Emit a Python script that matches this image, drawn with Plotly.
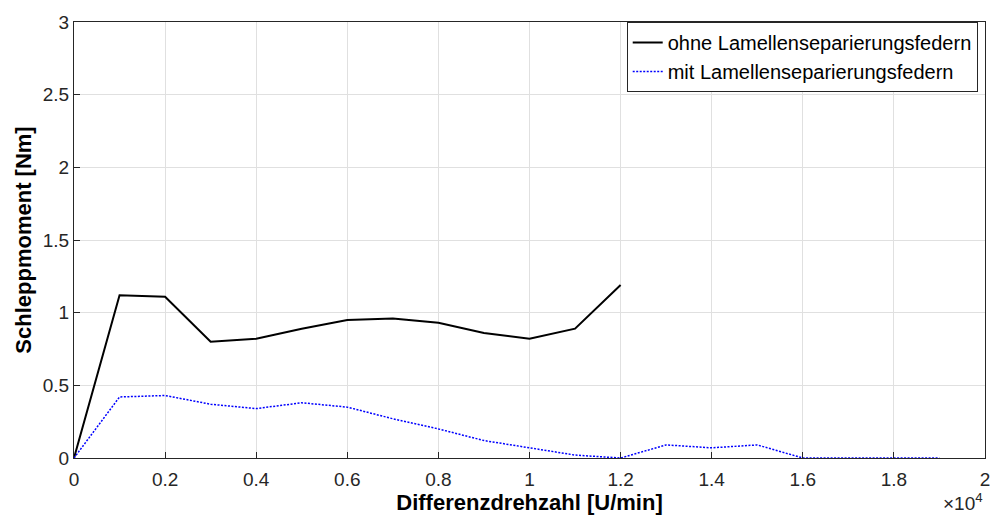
import plotly.graph_objects as go

x_ohne = [0, 1000, 2000, 3000, 4000, 5000, 6000, 7000, 8000, 9000, 10000, 11000, 12000]
y_ohne = [0, 1.12, 1.11, 0.80, 0.82, 0.89, 0.95, 0.96, 0.93, 0.86, 0.82, 0.89, 1.19]

x_mit = [0, 1000, 2000, 3000, 4000, 5000, 6000, 7000, 8000, 9000, 10000, 11000, 12000,
         13000, 14000, 15000, 16000, 17000, 18000, 19000]
y_mit = [0, 0.42, 0.43, 0.37, 0.34, 0.38, 0.35, 0.27, 0.20, 0.12, 0.07, 0.02, 0.0,
         0.09, 0.07, 0.09, 0.0, 0.0, 0.0, 0.0]

x_tickvals = [0, 2000, 4000, 6000, 8000, 10000, 12000, 14000, 16000, 18000, 20000]
x_ticktext = ["0", "0.2", "0.4", "0.6", "0.8", "1", "1.2", "1.4", "1.6", "1.8", "2"]
y_tickvals = [0, 0.5, 1, 1.5, 2, 2.5, 3]
y_ticktext = ["0", "0.5", "1", "1.5", "2", "2.5", "3"]

font_family = "Liberation Sans, Arial, sans-serif"

fig = go.Figure()
fig.add_trace(go.Scatter(x=x_ohne, y=y_ohne, mode="lines", name="ohne Lamellenseparierungsfedern",
                         line=dict(color="black", width=2)))
fig.add_trace(go.Scatter(x=x_mit, y=y_mit, mode="lines", name="mit Lamellenseparierungsfedern",
                         line=dict(color="blue", width=1.5, dash="2px,1.5px")))

axis_common = dict(showgrid=True, gridcolor="#e0e0e0", gridwidth=1, showline=True,
                   linecolor="#262626", linewidth=1, mirror=True, ticks="inside",
                   ticklen=6, tickcolor="#262626", zeroline=False,
                   tickfont=dict(family=font_family, size=19, color="#262626"))

fig.update_layout(
    width=1002, height=517,
    margin=dict(l=74, r=16, t=15, b=59),
    paper_bgcolor="white", plot_bgcolor="white",
    font=dict(family=font_family, color="#262626"),
    showlegend=True,
    legend=dict(x=0.992, y=1.0, xanchor="right", yanchor="top",
                bgcolor="white", bordercolor="#262626", borderwidth=1,
                font=dict(family=font_family, size=20, color="black"),
                tracegroupgap=0, itemwidth=30),
)
fig.update_xaxes(range=[0, 20000], tickvals=x_tickvals, ticktext=x_ticktext,
                 ticklabelstandoff=4,
                 title=dict(text="<b>Differenzdrehzahl [U/min]</b>", font=dict(family=font_family, size=22, color="black"), standoff=0),
                 **axis_common)
fig.update_yaxes(range=[0, 3], tickvals=y_tickvals, ticktext=y_ticktext,
                 title=dict(text="<b>Schleppmoment [Nm]</b>", font=dict(family=font_family, size=22, color="black"), standoff=5),
                 **axis_common)

fig.add_annotation(text="×10<sup>4</sup>", xref="paper", yref="paper", x=1.0, y=-0.133,
                   xanchor="right", yanchor="bottom", showarrow=False,
                   font=dict(family=font_family, size=19, color="#262626"))

fig.write_html("out.html")
